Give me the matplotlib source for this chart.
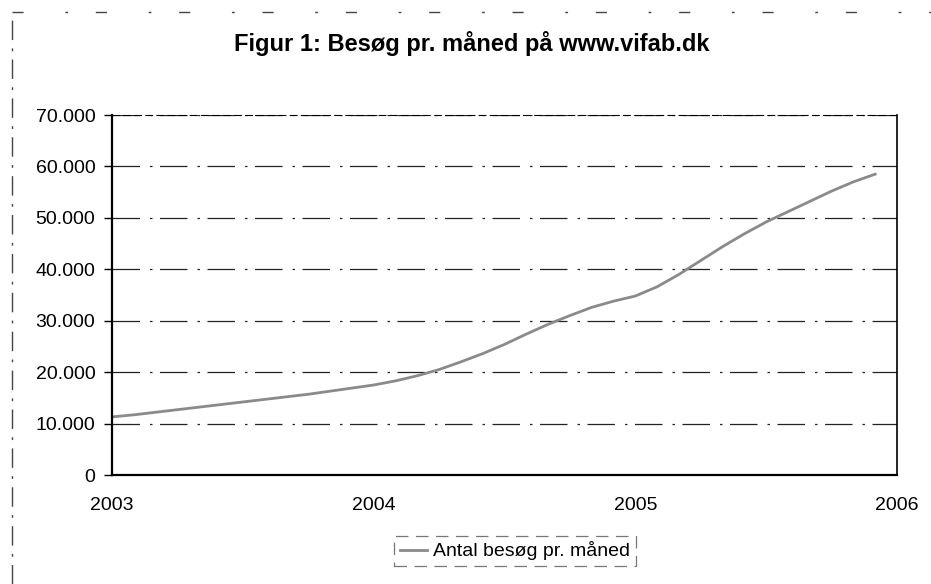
import matplotlib
matplotlib.use("Agg")
import matplotlib.pyplot as plt
from matplotlib.lines import Line2D
from matplotlib.ticker import FuncFormatter, MultipleLocator

plt.rcParams['font.family'] = ['Liberation Sans', 'DejaVu Sans']

title = "Figur 1: Besøg pr. måned på www.vifab.dk"
series_label = "Antal besøg pr. måned"
year_ticks = [2003, 2004, 2005, 2006]
# monthly visits Jan 2003 .. Dec 2005
visits = [11300, 11700, 12200, 12700, 13200, 13700, 14200, 14700, 15200, 15700,
          16300, 16900, 17500, 18300, 19300, 20500, 22000, 23600, 25400, 27400,
          29300, 31000, 32600, 33800, 34800, 36600, 39000, 41700, 44400, 46900,
          49200, 51200, 53200, 55200, 57000, 58500]
months = [2003 + i / 12 for i in range(len(visits))]

fig = plt.figure(figsize=(9.31, 5.84), dpi=100)
ax = fig.add_axes([112/931, 1 - 475/584, (897-112)/931, (475-115)/584])

ax.plot(months, visits, color='#8a8a8a', lw=2.0, label=series_label)

ax.set_xlim(2003, 2006)
ax.set_ylim(0, 70000)
ax.set_xticks(year_ticks)
ax.set_xticklabels([str(y) for y in year_ticks])
ax.yaxis.set_major_locator(MultipleLocator(10000))
ax.yaxis.set_major_formatter(FuncFormatter(lambda v, p: f"{int(v):,}".replace(",", ".")))
ax.tick_params(axis='y', labelsize=14, length=6, width=1, pad=6, colors='black')
ax.tick_params(axis='x', labelsize=14, length=0, pad=16)
ax.grid(axis='y', color='#222222', lw=0.9, ls=(0, (22, 8, 2, 6)))
ax.set_axisbelow(True)
for s in ['left', 'bottom']:
    ax.spines[s].set_linewidth(1.6)
ax.spines['right'].set_linewidth(1.2)
ax.spines['top'].set_linewidth(0.8)
ax.spines['top'].set_linestyle((0, (6, 4)))

fig.text(472/931, 1 - 44/584, title, ha='center', va='center',
         fontsize=17, fontweight='bold')

leg = ax.legend(loc='center', bbox_to_anchor=(515/931, 1 - 551/584),
                bbox_transform=fig.transFigure, fontsize=14, frameon=True,
                fancybox=False, handlelength=1.4, handletextpad=0.3,
                borderpad=0.3, borderaxespad=0)
leg.get_frame().set_edgecolor('#555555')
leg.get_frame().set_linewidth(0.9)
leg.get_frame().set_linestyle((0, (10, 6)))

# outer chart border (partially visible in scan)
fig.add_artist(Line2D([12/931, 12/931], [0, 1 - 12/584], transform=fig.transFigure,
                      color='#444444', lw=1, ls=(0, (14, 6, 2, 6))))
fig.add_artist(Line2D([12/931, 1], [1 - 12/584, 1 - 12/584], transform=fig.transFigure,
                      color='#444444', lw=1, ls=(0, (8, 30, 2, 20))))

fig.savefig("out.png", dpi=100)
